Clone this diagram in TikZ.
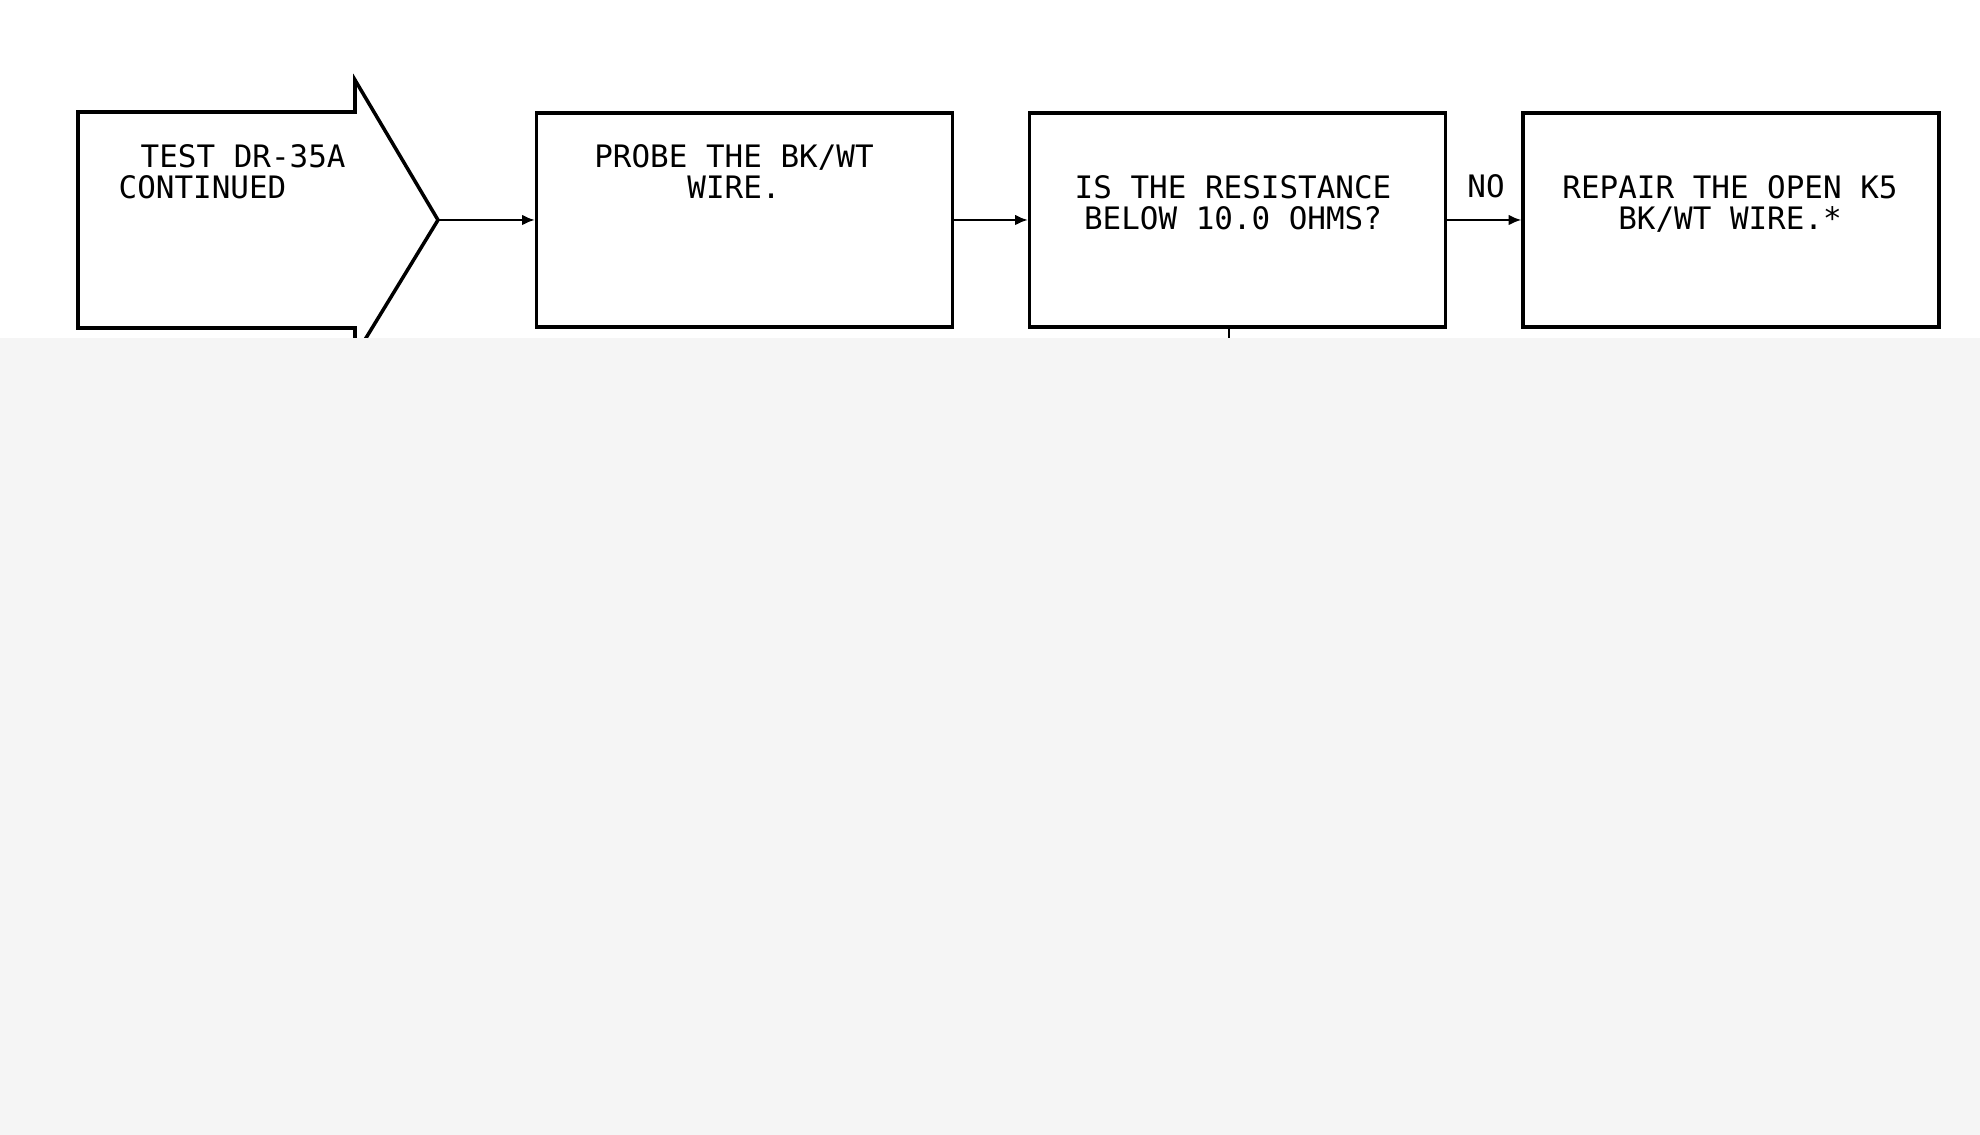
\documentclass[tikz,border=0pt]{standalone}
\usepackage{fontspec}
\usepackage{xcolor}
\usepackage{tikz}
\usetikzlibrary{positioning, arrows.meta}
\newfontfamily\plotfont{DejaVu Sans Mono}

\begin{document}
\begin{tikzpicture}
					\tikzstyle{block}=[rectangle,draw=black,line width=0.95pt,minimum width=4.16cm,minimum height=2.14cm,inner sep=0pt]
					\tikzstyle{say}=[font=\plotfont\fontsize{8.8}{9.1}\selectfont,inner sep=0pt,anchor=base,align=center]
					\tikzstyle{flow}=[line width=0.6pt,-{Latex[length=3.6pt,width=3pt]}]
					\useasboundingbox (0,0) rectangle (19.8,-11.35);
					\fill[white] (0,0) rectangle (19.8,-11.35);
					% entry arrow
					\draw[line width=1pt,line join=miter] (3.55,-3.56) -- (3.55,-3.28) -- (0.78,-3.28) -- (0.78,-1.12) -- (3.55,-1.12) -- (3.55,-0.80) -- (4.38,-2.20) -- cycle;
					\coordinate (tip) at (4.38,-2.20);
					\node[say,anchor=base west,align=left](cont) at (1.18,-1.99){\hspace*{0.22cm}TEST DR-35A\\CONTINUED};
					\node[block](v1) at (7.445,-2.20){};
					\node[block](v2) at (12.375,-2.20){};
					\node[block](v3) at (17.31,-2.20){};
					\node[say](t1) at (7.34,-1.99){PROBE THE BK/WT\\WIRE.};
					\node[say](t2) at (12.33,-2.30){IS THE RESISTANCE\\BELOW 10.0 OHMS?};
					\node[say](t3) at (17.30,-2.30){REPAIR THE OPEN K5\\BK/WT WIRE.*};
					\node[say](no) at (14.86,-1.98){NO};
					\coordinate (stub) at (12.29,-3.60);
					\path[flow]
						(tip) edge (v1)
						(v1) edge (v2)
						(v2) edge (v3);
					\draw[line width=0.6pt] (stub |- v2.south) -- (stub);
					% blurred lower part
					\fill[black!4] (0,-3.38) rectangle (19.8,-11.35);
				\end{tikzpicture}
\end{document}
